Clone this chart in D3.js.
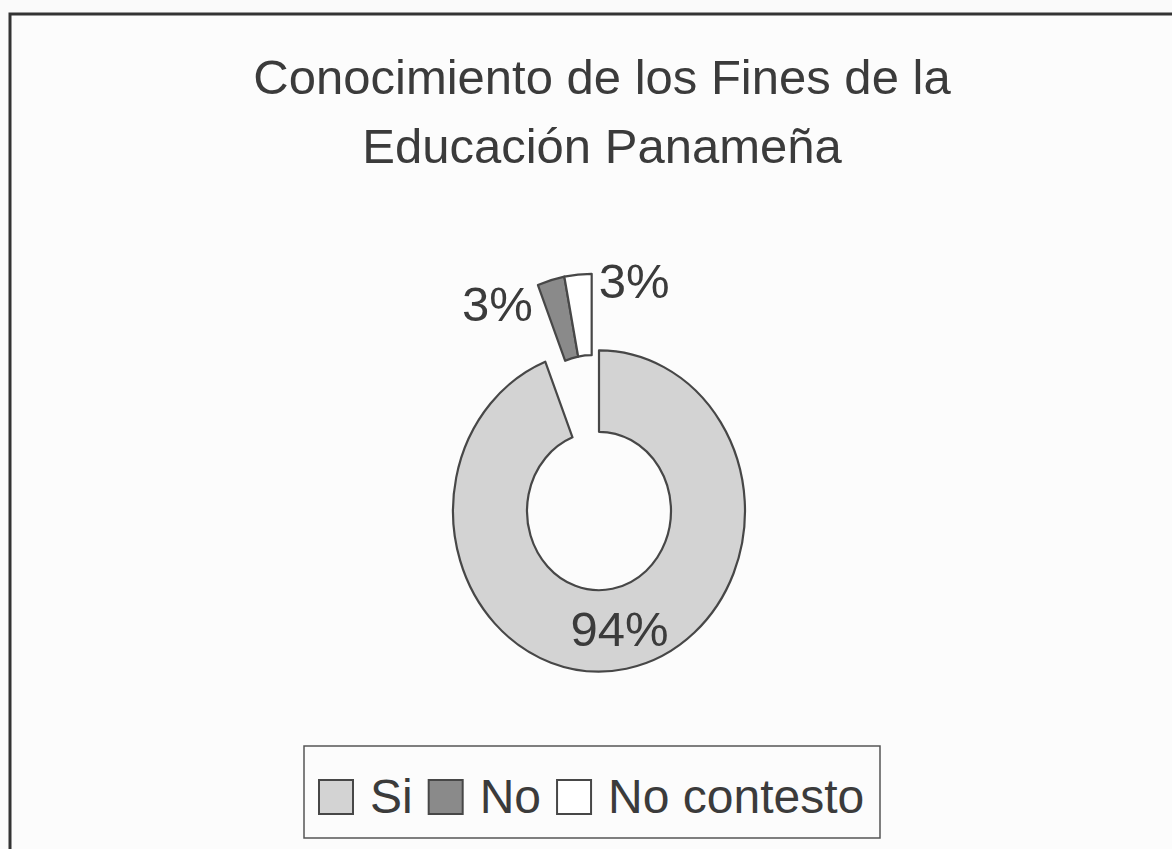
<!DOCTYPE html>
<html>
<head>
<meta charset="utf-8">
<script src="https://cdn.jsdelivr.net/npm/d3@7"></script>
<style>
  body { margin: 0; background: #fafafa; }
  text { font-family: "Liberation Sans", Arial, sans-serif; fill: #3b3b3b; }
</style>
</head>
<body>
<div id="chart"></div>
<script>

// the data

var title_lines = ["Conocimiento de los Fines de la", "Educación Panameña"];
var categories = ["Si", "No", "No contesto"];
var percents = [94, 3, 3];
var exploded = [false, true, true];
var fills = ["#d3d3d3", "#8a8a8a", "#ffffff"];

// set up the svg

var w = 1172, h = 849;
var cx = 599, cy = 511;
var outer = 146, inner = 72;
var squash = 1.1; // the scan is a bit taller than wide
var explode_dist = 70;
var explode_angle = -6 * Math.PI / 180;
var stroke_color = "#474747";

var svg = d3.select("#chart")
    .append("svg")
    .attr("width", w)
    .attr("height", h);

// chart frame, right and bottom edge run off the picture
svg.append("rect")
    .attr("x", 10).attr("y", 14)
    .attr("width", w + 20).attr("height", h + 20)
    .attr("fill", "#fcfcfc")
    .attr("stroke", "#333")
    .attr("stroke-width", 3);

// title

svg.selectAll(".title")
    .data(title_lines)
    .enter()
    .append("text")
    .attr("class", "title")
    .attr("x", 602)
    .attr("y", function(d, i) { return 94 + i * 69; })
    .attr("text-anchor", "middle")
    .attr("font-size", 49)
    .text(function(d) { return d; });

// the doughnut

var pie = d3.pie().sort(null).value(function(d) { return d; });
var arcs = pie(percents);
var arc = d3.arc().innerRadius(inner).outerRadius(outer);

var shift = function(i) {
    if (!exploded[i]) { return [0, 0]; }
    return [explode_dist * Math.sin(explode_angle), -explode_dist * Math.cos(explode_angle)];
};

// middle angle of the exploded group, used to split labels left / right
var group = arcs.filter(function(d, i) { return exploded[i]; });
var group_mid = (group[0].startAngle + group[group.length - 1].endAngle) / 2;

var donut = svg.append("g")
    .attr("transform", "translate(" + cx + "," + cy + ") scale(1," + squash + ")");

donut.selectAll("path")
    .data(arcs)
    .enter()
    .append("path")
    .attr("d", arc)
    .attr("transform", function(d, i) { var s = shift(i); return "translate(" + s[0] + "," + s[1] + ")"; })
    .attr("fill", function(d, i) { return fills[i]; })
    .attr("stroke", stroke_color)
    .attr("stroke-width", 2.2)
    .attr("vector-effect", "non-scaling-stroke")
    .attr("stroke-linejoin", "round");

// labels: big slice at its centroid, small exploded ones beside their outer corner

var to_screen = function(p) {
    return [cx + p[0], cy + p[1] * squash];
};

arcs.forEach(function(d, i) {
    var s = shift(i);
    var pos, anchor;
    if (!exploded[i]) {
        var c = arc.centroid(d);
        pos = to_screen(c);
        anchor = "middle";
    } else {
        var mid = (d.startAngle + d.endAngle) / 2;
        var left = mid < group_mid;
        var a = left ? d.startAngle : d.endAngle;
        var corner = [outer * Math.sin(a) + s[0], -outer * Math.cos(a) + s[1]];
        pos = to_screen(corner);
        pos[0] += left ? -5 : 7;
        pos[1] += left ? 19 : 7;
        anchor = left ? "end" : "start";
    }
    svg.append("text")
        .attr("x", pos[0])
        .attr("y", pos[1])
        .attr("dy", "0.35em")
        .attr("text-anchor", anchor)
        .attr("font-size", 49)
        .text(d3.format(".0f")(d.data) + "%");
});

// legend

var legend = svg.append("g");
legend.append("rect")
    .attr("x", 304).attr("y", 746)
    .attr("width", 576).attr("height", 92)
    .attr("fill", "#fcfcfc")
    .attr("stroke", "#555")
    .attr("stroke-width", 1.5);

var lx = 319;
var box = 34;
categories.forEach(function(name, i) {
    legend.append("rect")
        .attr("x", lx).attr("y", 780)
        .attr("width", box).attr("height", box)
        .attr("fill", fills[i])
        .attr("stroke", stroke_color)
        .attr("stroke-width", 2);
    lx += box + 17;
    var t = legend.append("text")
        .attr("x", lx)
        .attr("y", 813)
        .attr("font-size", 48)
        .text(name);
    lx += t.node().getComputedTextLength() + 16;
});

</script>
</body>
</html>
